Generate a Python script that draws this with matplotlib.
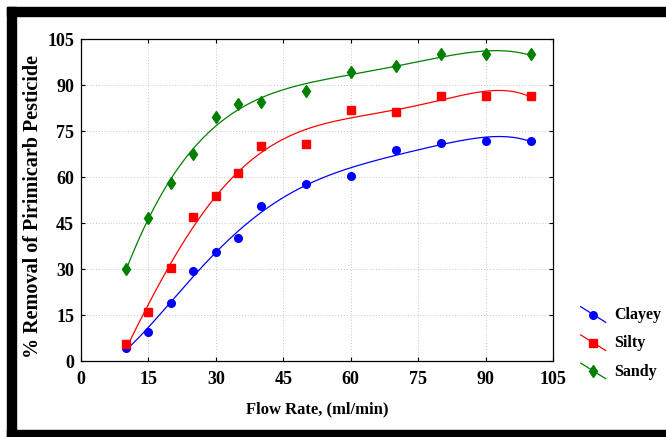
import numpy as np
import matplotlib; matplotlib.use('Agg'); import matplotlib.pyplot as plt
from matplotlib.lines import Line2D
from matplotlib.patches import Rectangle

plt.rcParams['font.family'] = ['Liberation Serif', 'DejaVu Serif']
plt.rcParams['font.weight'] = 'bold'

flow = [10, 15, 20, 25, 30, 35, 40, 50, 60, 70, 80, 90, 100]
clayey = [4.3, 9.5, 19.0, 29.3, 35.6, 40.0, 50.5, 57.7, 60.4, 68.8, 71.2, 71.9, 71.9]
silty = [5.5, 16.1, 30.2, 46.9, 53.8, 61.2, 70.2, 70.9, 81.7, 81.3, 86.5, 86.5, 86.5]
sandy = [30.0, 46.5, 58.1, 67.4, 79.7, 83.8, 84.6, 88.2, 94.3, 96.2, 100.0, 100.0, 100.0]
names = ['Clayey', 'Silty', 'Sandy']
ticks = [0, 15, 30, 45, 60, 75, 90, 105]

W, H = 666, 437
fig = plt.figure(figsize=(W/100, H/100), dpi=100)
ax = fig.add_axes([81/W, 1-361/H, (553-81)/W, (361-39)/H])

styles = [('#0000ff', 'o', 5.5), ('#ff0000', 's', 5.5), ('#008000', 'd', 6.5)]
xs = np.linspace(10, 100, 200)
for ys, (c, m, ms) in zip([clayey, silty, sandy], styles):
    # 5th order polynomial fit through the measured points
    p = np.polyfit(flow, ys, 5)
    ax.plot(xs, np.polyval(p, xs), color=c, lw=0.9)
    ax.plot(flow, ys, m, color=c, ms=ms, mec=c, ls='none')

ax.set_xlim(0, 105); ax.set_ylim(0, 105)
ax.set_xticks(ticks); ax.set_yticks(ticks)
ax.grid(True, ls=(0, (1, 2)), color='#c8c8c8', lw=0.7)
ax.tick_params(direction='in', length=3, width=0.8, top=True, right=True, labelsize=13)
ax.tick_params(axis='x', pad=7.5)
ax.tick_params(axis='y', pad=5)
for lb in ax.get_xticklabels() + ax.get_yticklabels():
    lb.set_fontweight('bold')
for s in ax.spines.values():
    s.set_linewidth(0.9)
ax.set_xlabel('Flow Rate, (ml/min)', fontsize=12, fontweight='bold', labelpad=9)
ax.set_ylabel('% Removal of Pirimicarb Pesticide', fontsize=14.5, fontweight='bold')
ax.yaxis.set_label_coords(-0.08, 0.481)

# legend drawn by hand: slanted line with marker
for i, (nm, (c, m, ms)) in enumerate(zip(names, styles)):
    y0 = 306.7 + i*28.2
    fig.add_artist(Line2D([580.7/W, 605.7/W], [1-y0/H, 1-(y0+15.6)/H], color=c, lw=0.9))
    fig.add_artist(Line2D([592.5/W], [1-(y0+7.8)/H], marker=m, color=c, ms=ms, ls='none'))
    fig.text(614/W, 1-(y0+8.5)/H, nm, fontsize=11.5, fontweight='bold', va='center', ha='left')

# black frame
for x, y, w, h in [(7, 7, 659, 9), (7, 7, 9, 430), (7, 430, 659, 7)]:
    fig.add_artist(Rectangle((x/W, 1-(y+h)/H), w/W, h/H, color='black', transform=fig.transFigure))

plt.savefig('out.png', dpi=100)
